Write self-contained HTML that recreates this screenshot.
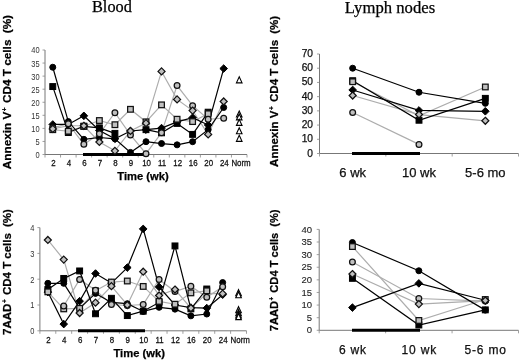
<!DOCTYPE html>
<html><head><meta charset="utf-8"><style>
html,body{margin:0;padding:0;background:#fff;}
svg{display:block;will-change:transform;font-family:"Liberation Sans",sans-serif;}
text{stroke:#000;stroke-width:0.25px;paint-order:stroke;}
</style></head><body>
<svg width="520" height="360" viewBox="0 0 520 360">
<rect width="520" height="360" fill="#fff"/>
<text x="92" y="12.4" font-family="Liberation Serif" font-size="16.3" fill="#000">Blood</text>
<text x="344.8" y="13.1" font-family="Liberation Serif" font-size="16.7" fill="#000">Lymph nodes</text>
<text transform="translate(11 169.2) rotate(-90)" font-size="11.6" font-weight="bold" fill="#000" textLength="154.2" lengthAdjust="spacingAndGlyphs">Annexin V<tspan font-size="6.4" dx="0.6" dy="-3.7">+</tspan><tspan dx="1.2" dy="3.7"> CD4 T cells </tspan><tspan dx="3">(%)</tspan></text>
<text transform="translate(11 334.9) rotate(-90)" font-size="11.6" font-weight="bold" fill="#000" textLength="125.8" lengthAdjust="spacingAndGlyphs">7AAD<tspan font-size="6.4" dx="0.6" dy="-3.7">+</tspan><tspan dx="1.2" dy="3.7"> CD4 T cells </tspan><tspan dx="3">(%)</tspan></text>
<text transform="translate(277.6 166.9) rotate(-90)" font-size="11.6" font-weight="bold" fill="#000" textLength="151" lengthAdjust="spacingAndGlyphs">Annexin V<tspan font-size="6.4" dx="0.6" dy="-3.7">+</tspan><tspan dx="1.2" dy="3.7"> CD4 T cells </tspan><tspan dx="3">(%)</tspan></text>
<text transform="translate(277.6 331.3) rotate(-90)" font-size="11.6" font-weight="bold" fill="#000" textLength="121.8" lengthAdjust="spacingAndGlyphs">7AAD<tspan font-size="6.4" dx="0.6" dy="-3.7">+</tspan><tspan dx="1.2" dy="3.7"> CD4 T cells </tspan><tspan dx="3">(%)</tspan></text>
<text x="143" y="179.9" font-size="11.2" font-weight="bold" text-anchor="middle" fill="#000">Time (wk)</text>
<text x="139.2" y="357.3" font-size="11.2" font-weight="bold" text-anchor="middle" fill="#000">Time (wk)</text>
<line x1="45" y1="50" x2="45" y2="154.5" stroke="#777" stroke-width="1"/>
<line x1="45" y1="154.5" x2="247" y2="154.5" stroke="#777" stroke-width="1"/>
<line x1="42.5" y1="154.5" x2="45" y2="154.5" stroke="#888" stroke-width="0.8"/>
<text transform="translate(39.6 157.99) scale(0.9 1)" font-size="8.3" text-anchor="end" fill="#333" style="stroke-width:0px">0</text>
<line x1="42.5" y1="141.44" x2="45" y2="141.44" stroke="#888" stroke-width="0.8"/>
<text transform="translate(39.6 144.92) scale(0.9 1)" font-size="8.3" text-anchor="end" fill="#333" style="stroke-width:0px">5</text>
<line x1="42.5" y1="128.38" x2="45" y2="128.38" stroke="#888" stroke-width="0.8"/>
<text transform="translate(39.6 131.86) scale(0.9 1)" font-size="8.3" text-anchor="end" fill="#333" style="stroke-width:0px">10</text>
<line x1="42.5" y1="115.31" x2="45" y2="115.31" stroke="#888" stroke-width="0.8"/>
<text transform="translate(39.6 118.8) scale(0.9 1)" font-size="8.3" text-anchor="end" fill="#333" style="stroke-width:0px">15</text>
<line x1="42.5" y1="102.25" x2="45" y2="102.25" stroke="#888" stroke-width="0.8"/>
<text transform="translate(39.6 105.74) scale(0.9 1)" font-size="8.3" text-anchor="end" fill="#333" style="stroke-width:0px">20</text>
<line x1="42.5" y1="89.19" x2="45" y2="89.19" stroke="#888" stroke-width="0.8"/>
<text transform="translate(39.6 92.67) scale(0.9 1)" font-size="8.3" text-anchor="end" fill="#333" style="stroke-width:0px">25</text>
<line x1="42.5" y1="76.12" x2="45" y2="76.12" stroke="#888" stroke-width="0.8"/>
<text transform="translate(39.6 79.61) scale(0.9 1)" font-size="8.3" text-anchor="end" fill="#333" style="stroke-width:0px">30</text>
<line x1="42.5" y1="63.06" x2="45" y2="63.06" stroke="#888" stroke-width="0.8"/>
<text transform="translate(39.6 66.55) scale(0.9 1)" font-size="8.3" text-anchor="end" fill="#333" style="stroke-width:0px">35</text>
<line x1="42.5" y1="50" x2="45" y2="50" stroke="#888" stroke-width="0.8"/>
<text transform="translate(39.6 53.49) scale(0.9 1)" font-size="8.3" text-anchor="end" fill="#333" style="stroke-width:0px">40</text>
<line x1="45" y1="154.5" x2="45" y2="157.5" stroke="#888" stroke-width="0.8"/>
<line x1="60.54" y1="154.5" x2="60.54" y2="157.5" stroke="#888" stroke-width="0.8"/>
<line x1="76.08" y1="154.5" x2="76.08" y2="157.5" stroke="#888" stroke-width="0.8"/>
<line x1="91.62" y1="154.5" x2="91.62" y2="157.5" stroke="#888" stroke-width="0.8"/>
<line x1="107.15" y1="154.5" x2="107.15" y2="157.5" stroke="#888" stroke-width="0.8"/>
<line x1="122.69" y1="154.5" x2="122.69" y2="157.5" stroke="#888" stroke-width="0.8"/>
<line x1="138.23" y1="154.5" x2="138.23" y2="157.5" stroke="#888" stroke-width="0.8"/>
<line x1="153.77" y1="154.5" x2="153.77" y2="157.5" stroke="#888" stroke-width="0.8"/>
<line x1="169.31" y1="154.5" x2="169.31" y2="157.5" stroke="#888" stroke-width="0.8"/>
<line x1="184.85" y1="154.5" x2="184.85" y2="157.5" stroke="#888" stroke-width="0.8"/>
<line x1="200.38" y1="154.5" x2="200.38" y2="157.5" stroke="#888" stroke-width="0.8"/>
<line x1="215.92" y1="154.5" x2="215.92" y2="157.5" stroke="#888" stroke-width="0.8"/>
<line x1="231.46" y1="154.5" x2="231.46" y2="157.5" stroke="#888" stroke-width="0.8"/>
<line x1="247" y1="154.5" x2="247" y2="157.5" stroke="#888" stroke-width="0.8"/>
<text transform="translate(53.37 165.6) scale(0.92 1)" font-size="8.6" text-anchor="middle" fill="#111">2</text>
<text transform="translate(68.91 165.6) scale(0.92 1)" font-size="8.6" text-anchor="middle" fill="#111">4</text>
<text transform="translate(84.45 165.6) scale(0.92 1)" font-size="8.6" text-anchor="middle" fill="#111">6</text>
<text transform="translate(99.98 165.6) scale(0.92 1)" font-size="8.6" text-anchor="middle" fill="#111">7</text>
<text transform="translate(115.52 165.6) scale(0.92 1)" font-size="8.6" text-anchor="middle" fill="#111">8</text>
<text transform="translate(131.06 165.6) scale(0.92 1)" font-size="8.6" text-anchor="middle" fill="#111">9</text>
<text transform="translate(146.6 165.6) scale(0.92 1)" font-size="8.6" text-anchor="middle" fill="#111">10</text>
<text transform="translate(162.14 165.6) scale(0.92 1)" font-size="8.6" text-anchor="middle" fill="#111">11</text>
<text transform="translate(177.68 165.6) scale(0.92 1)" font-size="8.6" text-anchor="middle" fill="#111">12</text>
<text transform="translate(193.22 165.6) scale(0.92 1)" font-size="8.6" text-anchor="middle" fill="#111">16</text>
<text transform="translate(208.75 165.6) scale(0.92 1)" font-size="8.6" text-anchor="middle" fill="#111">20</text>
<text transform="translate(224.29 165.6) scale(0.92 1)" font-size="8.6" text-anchor="middle" fill="#111">24</text>
<text transform="translate(241.03 165.6) scale(0.92 1)" font-size="8.6" text-anchor="middle" fill="#111">Norm</text>
<line x1="83" y1="154.5" x2="146" y2="154.5" stroke="#000" stroke-width="3"/>
<path d="M52.77 129.68 L68.31 131.25 L83.85 126.28 L99.38 120.54 L114.92 124.72 L130.46 109.3 L146 121.84 L161.54 104.86 L177.08 119.23 L192.62 121.58 L208.15 113.75" fill="none" stroke="#adadad" stroke-width="1.2"/>
<path d="M52.77 127.85 L68.31 123.67 L83.85 144.31 L99.38 133.86 L114.92 112.7 L130.46 134.91 L146 153.72 L161.54 132.82 L177.08 85.53 L192.62 105.65 L208.15 119.23 L223.69 118.19" fill="none" stroke="#adadad" stroke-width="1.2"/>
<path d="M52.77 128.9 L68.31 125.76 L83.85 125.76 L99.38 141.96 L114.92 150.84 L130.46 130.99 L146 123.15 L161.54 71.42 L177.08 99.38 L192.62 110.61 L208.15 134.38 L223.69 101.47" fill="none" stroke="#adadad" stroke-width="1.2"/>
<path d="M52.77 86.58 L68.31 132.56 L83.85 126.28 L99.38 127.85 L114.92 133.34" fill="none" stroke="#000" stroke-width="1.2"/>
<path d="M146 129.68 L161.54 132.82 L177.08 123.41 L192.62 134.38 L208.15 112.18" fill="none" stroke="#000" stroke-width="1.2"/>
<path d="M52.77 124.46 L68.31 124.46 L83.85 115.84 L99.38 130.47 L114.92 138.82 L130.46 130.99 L146 129.68 L161.54 128.11 L177.08 121.84 L192.62 117.66 L208.15 124.98 L223.69 68.55" fill="none" stroke="#000" stroke-width="1.2"/>
<path d="M52.77 67.24 L68.31 121.58 L83.85 139.35 L99.38 137.52 L114.92 138.82 L130.46 152.41 L146 141.7 L161.54 143.53 L177.08 144.83 L192.62 141.7 L208.15 129.68 L223.69 107.47" fill="none" stroke="#000" stroke-width="1.2"/>
<rect x="49.82" y="83.62" width="5.9" height="5.9" fill="#000" stroke="#000" stroke-width="1.0"/>
<rect x="65.36" y="129.61" width="5.9" height="5.9" fill="#000" stroke="#000" stroke-width="1.0"/>
<rect x="80.9" y="123.33" width="5.9" height="5.9" fill="#000" stroke="#000" stroke-width="1.0"/>
<rect x="96.43" y="124.9" width="5.9" height="5.9" fill="#000" stroke="#000" stroke-width="1.0"/>
<rect x="111.97" y="130.39" width="5.9" height="5.9" fill="#000" stroke="#000" stroke-width="1.0"/>
<rect x="143.05" y="126.73" width="5.9" height="5.9" fill="#000" stroke="#000" stroke-width="1.0"/>
<rect x="158.59" y="129.87" width="5.9" height="5.9" fill="#000" stroke="#000" stroke-width="1.0"/>
<rect x="174.13" y="120.46" width="5.9" height="5.9" fill="#000" stroke="#000" stroke-width="1.0"/>
<rect x="189.67" y="131.43" width="5.9" height="5.9" fill="#000" stroke="#000" stroke-width="1.0"/>
<rect x="205.2" y="109.23" width="5.9" height="5.9" fill="#000" stroke="#000" stroke-width="1.0"/>
<path d="M52.77 120.66L56.57 124.46L52.77 128.26L48.97 124.46Z" fill="#000" stroke="#000" stroke-width="1.0" stroke-linejoin="miter"/>
<path d="M68.31 120.66L72.11 124.46L68.31 128.26L64.51 124.46Z" fill="#000" stroke="#000" stroke-width="1.0" stroke-linejoin="miter"/>
<path d="M83.85 112.04L87.65 115.84L83.85 119.64L80.05 115.84Z" fill="#000" stroke="#000" stroke-width="1.0" stroke-linejoin="miter"/>
<path d="M99.38 126.67L103.18 130.47L99.38 134.27L95.58 130.47Z" fill="#000" stroke="#000" stroke-width="1.0" stroke-linejoin="miter"/>
<path d="M114.92 135.02L118.72 138.82L114.92 142.62L111.12 138.82Z" fill="#000" stroke="#000" stroke-width="1.0" stroke-linejoin="miter"/>
<path d="M130.46 127.19L134.26 130.99L130.46 134.79L126.66 130.99Z" fill="#000" stroke="#000" stroke-width="1.0" stroke-linejoin="miter"/>
<path d="M146 125.88L149.8 129.68L146 133.48L142.2 129.68Z" fill="#000" stroke="#000" stroke-width="1.0" stroke-linejoin="miter"/>
<path d="M161.54 124.31L165.34 128.11L161.54 131.91L157.74 128.11Z" fill="#000" stroke="#000" stroke-width="1.0" stroke-linejoin="miter"/>
<path d="M177.08 118.04L180.88 121.84L177.08 125.64L173.28 121.84Z" fill="#000" stroke="#000" stroke-width="1.0" stroke-linejoin="miter"/>
<path d="M192.62 113.86L196.42 117.66L192.62 121.46L188.82 117.66Z" fill="#000" stroke="#000" stroke-width="1.0" stroke-linejoin="miter"/>
<path d="M208.15 121.18L211.95 124.98L208.15 128.78L204.35 124.98Z" fill="#000" stroke="#000" stroke-width="1.0" stroke-linejoin="miter"/>
<path d="M223.69 64.75L227.49 68.55L223.69 72.35L219.89 68.55Z" fill="#000" stroke="#000" stroke-width="1.0" stroke-linejoin="miter"/>
<circle cx="52.77" cy="67.24" r="3" fill="#000" stroke="#000" stroke-width="1.0"/>
<circle cx="68.31" cy="121.58" r="3" fill="#000" stroke="#000" stroke-width="1.0"/>
<circle cx="83.85" cy="139.35" r="3" fill="#000" stroke="#000" stroke-width="1.0"/>
<circle cx="99.38" cy="137.52" r="3" fill="#000" stroke="#000" stroke-width="1.0"/>
<circle cx="114.92" cy="138.82" r="3" fill="#000" stroke="#000" stroke-width="1.0"/>
<circle cx="130.46" cy="152.41" r="3" fill="#000" stroke="#000" stroke-width="1.0"/>
<circle cx="146" cy="141.7" r="3" fill="#000" stroke="#000" stroke-width="1.0"/>
<circle cx="161.54" cy="143.53" r="3" fill="#000" stroke="#000" stroke-width="1.0"/>
<circle cx="177.08" cy="144.83" r="3" fill="#000" stroke="#000" stroke-width="1.0"/>
<circle cx="192.62" cy="141.7" r="3" fill="#000" stroke="#000" stroke-width="1.0"/>
<circle cx="208.15" cy="129.68" r="3" fill="#000" stroke="#000" stroke-width="1.0"/>
<circle cx="223.69" cy="107.47" r="3" fill="#000" stroke="#000" stroke-width="1.0"/>
<rect x="49.94" y="126.86" width="5.65" height="5.65" fill="#c0c0c0" stroke="#111" stroke-width="1.25"/>
<rect x="65.48" y="128.42" width="5.65" height="5.65" fill="#c0c0c0" stroke="#111" stroke-width="1.25"/>
<rect x="81.02" y="123.46" width="5.65" height="5.65" fill="#c0c0c0" stroke="#111" stroke-width="1.25"/>
<rect x="96.56" y="117.71" width="5.65" height="5.65" fill="#c0c0c0" stroke="#111" stroke-width="1.25"/>
<rect x="112.1" y="121.89" width="5.65" height="5.65" fill="#c0c0c0" stroke="#111" stroke-width="1.25"/>
<rect x="127.64" y="106.48" width="5.65" height="5.65" fill="#c0c0c0" stroke="#111" stroke-width="1.25"/>
<rect x="143.18" y="119.02" width="5.65" height="5.65" fill="#c0c0c0" stroke="#111" stroke-width="1.25"/>
<rect x="158.71" y="102.04" width="5.65" height="5.65" fill="#c0c0c0" stroke="#111" stroke-width="1.25"/>
<rect x="174.25" y="116.41" width="5.65" height="5.65" fill="#c0c0c0" stroke="#111" stroke-width="1.25"/>
<rect x="189.79" y="118.76" width="5.65" height="5.65" fill="#c0c0c0" stroke="#111" stroke-width="1.25"/>
<rect x="205.33" y="110.92" width="5.65" height="5.65" fill="#c0c0c0" stroke="#111" stroke-width="1.25"/>
<circle cx="52.77" cy="127.85" r="2.88" fill="#c0c0c0" stroke="#111" stroke-width="1.25"/>
<circle cx="68.31" cy="123.67" r="2.88" fill="#c0c0c0" stroke="#111" stroke-width="1.25"/>
<circle cx="83.85" cy="144.31" r="2.88" fill="#c0c0c0" stroke="#111" stroke-width="1.25"/>
<circle cx="99.38" cy="133.86" r="2.88" fill="#c0c0c0" stroke="#111" stroke-width="1.25"/>
<circle cx="114.92" cy="112.7" r="2.88" fill="#c0c0c0" stroke="#111" stroke-width="1.25"/>
<circle cx="130.46" cy="134.91" r="2.88" fill="#c0c0c0" stroke="#111" stroke-width="1.25"/>
<circle cx="146" cy="153.72" r="2.88" fill="#c0c0c0" stroke="#111" stroke-width="1.25"/>
<circle cx="161.54" cy="132.82" r="2.88" fill="#c0c0c0" stroke="#111" stroke-width="1.25"/>
<circle cx="177.08" cy="85.53" r="2.88" fill="#c0c0c0" stroke="#111" stroke-width="1.25"/>
<circle cx="192.62" cy="105.65" r="2.88" fill="#c0c0c0" stroke="#111" stroke-width="1.25"/>
<circle cx="208.15" cy="119.23" r="2.88" fill="#c0c0c0" stroke="#111" stroke-width="1.25"/>
<circle cx="223.69" cy="118.19" r="2.88" fill="#c0c0c0" stroke="#111" stroke-width="1.25"/>
<path d="M52.77 125.4L56.27 128.9L52.77 132.4L49.27 128.9Z" fill="#c0c0c0" stroke="#111" stroke-width="1.25" stroke-linejoin="miter"/>
<path d="M83.85 122.26L87.35 125.76L83.85 129.26L80.35 125.76Z" fill="#c0c0c0" stroke="#111" stroke-width="1.25" stroke-linejoin="miter"/>
<path d="M99.38 138.46L102.88 141.96L99.38 145.46L95.88 141.96Z" fill="#c0c0c0" stroke="#111" stroke-width="1.25" stroke-linejoin="miter"/>
<path d="M114.92 147.34L118.42 150.84L114.92 154.34L111.42 150.84Z" fill="#c0c0c0" stroke="#111" stroke-width="1.25" stroke-linejoin="miter"/>
<path d="M130.46 127.49L133.96 130.99L130.46 134.49L126.96 130.99Z" fill="#c0c0c0" stroke="#111" stroke-width="1.25" stroke-linejoin="miter"/>
<path d="M146 119.65L149.5 123.15L146 126.65L142.5 123.15Z" fill="#c0c0c0" stroke="#111" stroke-width="1.25" stroke-linejoin="miter"/>
<path d="M161.54 67.92L165.04 71.42L161.54 74.92L158.04 71.42Z" fill="#c0c0c0" stroke="#111" stroke-width="1.25" stroke-linejoin="miter"/>
<path d="M177.08 95.88L180.58 99.38L177.08 102.88L173.58 99.38Z" fill="#c0c0c0" stroke="#111" stroke-width="1.25" stroke-linejoin="miter"/>
<path d="M192.62 107.11L196.12 110.61L192.62 114.11L189.12 110.61Z" fill="#c0c0c0" stroke="#111" stroke-width="1.25" stroke-linejoin="miter"/>
<path d="M208.15 130.88L211.65 134.38L208.15 137.88L204.65 134.38Z" fill="#c0c0c0" stroke="#111" stroke-width="1.25" stroke-linejoin="miter"/>
<path d="M223.69 97.97L227.19 101.47L223.69 104.97L220.19 101.47Z" fill="#c0c0c0" stroke="#111" stroke-width="1.25" stroke-linejoin="miter"/>
<path d="M239.23 76.81L242.03 82.83L236.43 82.83Z" fill="#fff" stroke="#000" stroke-width="1.1"/>
<path d="M239.23 111.03L242.03 117.05L236.43 117.05Z" fill="#fff" stroke="#000" stroke-width="1.1"/>
<path d="M239.23 113.9L242.03 119.92L236.43 119.92Z" fill="#fff" stroke="#000" stroke-width="1.1"/>
<path d="M239.23 119.39L242.03 125.41L236.43 125.41Z" fill="#fff" stroke="#000" stroke-width="1.1"/>
<path d="M239.23 127.75L242.03 133.77L236.43 133.77Z" fill="#fff" stroke="#000" stroke-width="1.1"/>
<path d="M239.23 135.32L242.03 141.34L236.43 141.34Z" fill="#fff" stroke="#000" stroke-width="1.1"/>
<line x1="39.9" y1="227.6" x2="39.9" y2="330.8" stroke="#777" stroke-width="1"/>
<line x1="39.9" y1="330.8" x2="246.5" y2="330.8" stroke="#777" stroke-width="1"/>
<line x1="37.4" y1="330.8" x2="39.9" y2="330.8" stroke="#888" stroke-width="0.8"/>
<text transform="translate(34.5 334.29) scale(0.9 1)" font-size="8.3" text-anchor="end" fill="#333" style="stroke-width:0px">0</text>
<line x1="37.4" y1="305" x2="39.9" y2="305" stroke="#888" stroke-width="0.8"/>
<text transform="translate(34.5 308.49) scale(0.9 1)" font-size="8.3" text-anchor="end" fill="#333" style="stroke-width:0px">1</text>
<line x1="37.4" y1="279.2" x2="39.9" y2="279.2" stroke="#888" stroke-width="0.8"/>
<text transform="translate(34.5 282.69) scale(0.9 1)" font-size="8.3" text-anchor="end" fill="#333" style="stroke-width:0px">2</text>
<line x1="37.4" y1="253.4" x2="39.9" y2="253.4" stroke="#888" stroke-width="0.8"/>
<text transform="translate(34.5 256.89) scale(0.9 1)" font-size="8.3" text-anchor="end" fill="#333" style="stroke-width:0px">3</text>
<line x1="37.4" y1="227.6" x2="39.9" y2="227.6" stroke="#888" stroke-width="0.8"/>
<text transform="translate(34.5 231.09) scale(0.9 1)" font-size="8.3" text-anchor="end" fill="#333" style="stroke-width:0px">4</text>
<line x1="39.9" y1="330.8" x2="39.9" y2="333.8" stroke="#888" stroke-width="0.8"/>
<line x1="55.79" y1="330.8" x2="55.79" y2="333.8" stroke="#888" stroke-width="0.8"/>
<line x1="71.68" y1="330.8" x2="71.68" y2="333.8" stroke="#888" stroke-width="0.8"/>
<line x1="87.58" y1="330.8" x2="87.58" y2="333.8" stroke="#888" stroke-width="0.8"/>
<line x1="103.47" y1="330.8" x2="103.47" y2="333.8" stroke="#888" stroke-width="0.8"/>
<line x1="119.36" y1="330.8" x2="119.36" y2="333.8" stroke="#888" stroke-width="0.8"/>
<line x1="135.25" y1="330.8" x2="135.25" y2="333.8" stroke="#888" stroke-width="0.8"/>
<line x1="151.15" y1="330.8" x2="151.15" y2="333.8" stroke="#888" stroke-width="0.8"/>
<line x1="167.04" y1="330.8" x2="167.04" y2="333.8" stroke="#888" stroke-width="0.8"/>
<line x1="182.93" y1="330.8" x2="182.93" y2="333.8" stroke="#888" stroke-width="0.8"/>
<line x1="198.82" y1="330.8" x2="198.82" y2="333.8" stroke="#888" stroke-width="0.8"/>
<line x1="214.72" y1="330.8" x2="214.72" y2="333.8" stroke="#888" stroke-width="0.8"/>
<line x1="230.61" y1="330.8" x2="230.61" y2="333.8" stroke="#888" stroke-width="0.8"/>
<line x1="246.5" y1="330.8" x2="246.5" y2="333.8" stroke="#888" stroke-width="0.8"/>
<text transform="translate(48.35 342.9) scale(0.92 1)" font-size="8.6" text-anchor="middle" fill="#111">2</text>
<text transform="translate(64.24 342.9) scale(0.92 1)" font-size="8.6" text-anchor="middle" fill="#111">4</text>
<text transform="translate(80.13 342.9) scale(0.92 1)" font-size="8.6" text-anchor="middle" fill="#111">6</text>
<text transform="translate(96.02 342.9) scale(0.92 1)" font-size="8.6" text-anchor="middle" fill="#111">7</text>
<text transform="translate(111.92 342.9) scale(0.92 1)" font-size="8.6" text-anchor="middle" fill="#111">8</text>
<text transform="translate(127.81 342.9) scale(0.92 1)" font-size="8.6" text-anchor="middle" fill="#111">9</text>
<text transform="translate(143.7 342.9) scale(0.92 1)" font-size="8.6" text-anchor="middle" fill="#111">10</text>
<text transform="translate(159.59 342.9) scale(0.92 1)" font-size="8.6" text-anchor="middle" fill="#111">11</text>
<text transform="translate(175.48 342.9) scale(0.92 1)" font-size="8.6" text-anchor="middle" fill="#111">12</text>
<text transform="translate(191.38 342.9) scale(0.92 1)" font-size="8.6" text-anchor="middle" fill="#111">16</text>
<text transform="translate(207.27 342.9) scale(0.92 1)" font-size="8.6" text-anchor="middle" fill="#111">20</text>
<text transform="translate(223.16 342.9) scale(0.92 1)" font-size="8.6" text-anchor="middle" fill="#111">24</text>
<text transform="translate(240.25 342.9) scale(0.92 1)" font-size="8.6" text-anchor="middle" fill="#111">Norm</text>
<line x1="78" y1="330.8" x2="145" y2="330.8" stroke="#000" stroke-width="3"/>
<path d="M47.85 291.84 L63.74 308.87 L79.63 308.35 L95.52 290.81 L111.42 282.04 L127.31 281.01 L143.2 286.42 L159.09 301.39 L174.98 304.23 L190.88 292.87 L206.77 290.81" fill="none" stroke="#adadad" stroke-width="1.2"/>
<path d="M63.74 306.03 L79.63 279.46 L95.52 290.29 L111.42 304.48 L127.31 305.52 L143.2 304.48 L159.09 279.46 L174.98 291.58 L190.88 286.17 L206.77 297.26 L222.66 286.68" fill="none" stroke="#adadad" stroke-width="1.2"/>
<path d="M47.85 239.98 L63.74 259.59 L79.63 313 L95.52 302.68 L111.42 286.17 L127.31 305 L143.2 271.72 L159.09 295.45 L174.98 289.52 L190.88 308.1 L206.77 293.39 L222.66 293.65" fill="none" stroke="#adadad" stroke-width="1.2"/>
<path d="M47.85 289.52 L63.74 278.43 L79.63 270.94 L95.52 313.77 L111.42 298.29 L127.31 315.58 L143.2 311.19 L159.09 302.42 L174.98 245.92 L190.88 308.87 L206.77 289" fill="none" stroke="#000" stroke-width="1.2"/>
<path d="M47.85 292.1 L63.74 324.09 L79.63 301.13 L95.52 273.52 L111.42 283.07 L127.31 267.59 L143.2 228.89 L159.09 286.94 L174.98 305 L190.88 307.58 L206.77 308.1 L222.66 294.68" fill="none" stroke="#000" stroke-width="1.2"/>
<path d="M47.85 283.33 L63.74 283.33 L79.63 308.35 L95.52 293.39 L111.42 302.42 L127.31 303.71 L143.2 311.45 L159.09 307.32 L174.98 309.13 L190.88 315.84 L206.77 314.03 L222.66 282.55" fill="none" stroke="#000" stroke-width="1.2"/>
<rect x="44.9" y="286.57" width="5.9" height="5.9" fill="#000" stroke="#000" stroke-width="1.0"/>
<rect x="60.79" y="275.48" width="5.9" height="5.9" fill="#000" stroke="#000" stroke-width="1.0"/>
<rect x="76.68" y="267.99" width="5.9" height="5.9" fill="#000" stroke="#000" stroke-width="1.0"/>
<rect x="92.57" y="310.82" width="5.9" height="5.9" fill="#000" stroke="#000" stroke-width="1.0"/>
<rect x="108.47" y="295.34" width="5.9" height="5.9" fill="#000" stroke="#000" stroke-width="1.0"/>
<rect x="124.36" y="312.63" width="5.9" height="5.9" fill="#000" stroke="#000" stroke-width="1.0"/>
<rect x="140.25" y="308.24" width="5.9" height="5.9" fill="#000" stroke="#000" stroke-width="1.0"/>
<rect x="156.14" y="299.47" width="5.9" height="5.9" fill="#000" stroke="#000" stroke-width="1.0"/>
<rect x="172.03" y="242.97" width="5.9" height="5.9" fill="#000" stroke="#000" stroke-width="1.0"/>
<rect x="187.93" y="305.92" width="5.9" height="5.9" fill="#000" stroke="#000" stroke-width="1.0"/>
<rect x="203.82" y="286.05" width="5.9" height="5.9" fill="#000" stroke="#000" stroke-width="1.0"/>
<path d="M47.85 288.3L51.65 292.1L47.85 295.9L44.05 292.1Z" fill="#000" stroke="#000" stroke-width="1.0" stroke-linejoin="miter"/>
<path d="M63.74 320.29L67.54 324.09L63.74 327.89L59.94 324.09Z" fill="#000" stroke="#000" stroke-width="1.0" stroke-linejoin="miter"/>
<path d="M79.63 297.33L83.43 301.13L79.63 304.93L75.83 301.13Z" fill="#000" stroke="#000" stroke-width="1.0" stroke-linejoin="miter"/>
<path d="M95.52 269.72L99.32 273.52L95.52 277.32L91.72 273.52Z" fill="#000" stroke="#000" stroke-width="1.0" stroke-linejoin="miter"/>
<path d="M111.42 279.27L115.22 283.07L111.42 286.87L107.62 283.07Z" fill="#000" stroke="#000" stroke-width="1.0" stroke-linejoin="miter"/>
<path d="M127.31 263.79L131.11 267.59L127.31 271.39L123.51 267.59Z" fill="#000" stroke="#000" stroke-width="1.0" stroke-linejoin="miter"/>
<path d="M143.2 225.09L147 228.89L143.2 232.69L139.4 228.89Z" fill="#000" stroke="#000" stroke-width="1.0" stroke-linejoin="miter"/>
<path d="M159.09 283.14L162.89 286.94L159.09 290.74L155.29 286.94Z" fill="#000" stroke="#000" stroke-width="1.0" stroke-linejoin="miter"/>
<path d="M174.98 301.2L178.78 305L174.98 308.8L171.18 305Z" fill="#000" stroke="#000" stroke-width="1.0" stroke-linejoin="miter"/>
<path d="M190.88 303.78L194.68 307.58L190.88 311.38L187.08 307.58Z" fill="#000" stroke="#000" stroke-width="1.0" stroke-linejoin="miter"/>
<path d="M206.77 304.3L210.57 308.1L206.77 311.9L202.97 308.1Z" fill="#000" stroke="#000" stroke-width="1.0" stroke-linejoin="miter"/>
<path d="M222.66 290.88L226.46 294.68L222.66 298.48L218.86 294.68Z" fill="#000" stroke="#000" stroke-width="1.0" stroke-linejoin="miter"/>
<circle cx="47.85" cy="283.33" r="3" fill="#000" stroke="#000" stroke-width="1.0"/>
<circle cx="63.74" cy="283.33" r="3" fill="#000" stroke="#000" stroke-width="1.0"/>
<circle cx="79.63" cy="308.35" r="3" fill="#000" stroke="#000" stroke-width="1.0"/>
<circle cx="95.52" cy="293.39" r="3" fill="#000" stroke="#000" stroke-width="1.0"/>
<circle cx="111.42" cy="302.42" r="3" fill="#000" stroke="#000" stroke-width="1.0"/>
<circle cx="127.31" cy="303.71" r="3" fill="#000" stroke="#000" stroke-width="1.0"/>
<circle cx="143.2" cy="311.45" r="3" fill="#000" stroke="#000" stroke-width="1.0"/>
<circle cx="159.09" cy="307.32" r="3" fill="#000" stroke="#000" stroke-width="1.0"/>
<circle cx="174.98" cy="309.13" r="3" fill="#000" stroke="#000" stroke-width="1.0"/>
<circle cx="190.88" cy="315.84" r="3" fill="#000" stroke="#000" stroke-width="1.0"/>
<circle cx="206.77" cy="314.03" r="3" fill="#000" stroke="#000" stroke-width="1.0"/>
<circle cx="222.66" cy="282.55" r="3" fill="#000" stroke="#000" stroke-width="1.0"/>
<rect x="45.02" y="289.02" width="5.65" height="5.65" fill="#c0c0c0" stroke="#111" stroke-width="1.25"/>
<rect x="60.91" y="306.05" width="5.65" height="5.65" fill="#c0c0c0" stroke="#111" stroke-width="1.25"/>
<rect x="76.81" y="305.53" width="5.65" height="5.65" fill="#c0c0c0" stroke="#111" stroke-width="1.25"/>
<rect x="92.7" y="287.99" width="5.65" height="5.65" fill="#c0c0c0" stroke="#111" stroke-width="1.25"/>
<rect x="108.59" y="279.21" width="5.65" height="5.65" fill="#c0c0c0" stroke="#111" stroke-width="1.25"/>
<rect x="124.48" y="278.18" width="5.65" height="5.65" fill="#c0c0c0" stroke="#111" stroke-width="1.25"/>
<rect x="140.38" y="283.6" width="5.65" height="5.65" fill="#c0c0c0" stroke="#111" stroke-width="1.25"/>
<rect x="156.27" y="298.56" width="5.65" height="5.65" fill="#c0c0c0" stroke="#111" stroke-width="1.25"/>
<rect x="172.16" y="301.4" width="5.65" height="5.65" fill="#c0c0c0" stroke="#111" stroke-width="1.25"/>
<rect x="188.05" y="290.05" width="5.65" height="5.65" fill="#c0c0c0" stroke="#111" stroke-width="1.25"/>
<rect x="203.94" y="287.99" width="5.65" height="5.65" fill="#c0c0c0" stroke="#111" stroke-width="1.25"/>
<circle cx="63.74" cy="306.03" r="2.88" fill="#c0c0c0" stroke="#111" stroke-width="1.25"/>
<circle cx="79.63" cy="279.46" r="2.88" fill="#c0c0c0" stroke="#111" stroke-width="1.25"/>
<circle cx="95.52" cy="290.29" r="2.88" fill="#c0c0c0" stroke="#111" stroke-width="1.25"/>
<circle cx="111.42" cy="304.48" r="2.88" fill="#c0c0c0" stroke="#111" stroke-width="1.25"/>
<circle cx="127.31" cy="305.52" r="2.88" fill="#c0c0c0" stroke="#111" stroke-width="1.25"/>
<circle cx="143.2" cy="304.48" r="2.88" fill="#c0c0c0" stroke="#111" stroke-width="1.25"/>
<circle cx="159.09" cy="279.46" r="2.88" fill="#c0c0c0" stroke="#111" stroke-width="1.25"/>
<circle cx="174.98" cy="291.58" r="2.88" fill="#c0c0c0" stroke="#111" stroke-width="1.25"/>
<circle cx="190.88" cy="286.17" r="2.88" fill="#c0c0c0" stroke="#111" stroke-width="1.25"/>
<circle cx="206.77" cy="297.26" r="2.88" fill="#c0c0c0" stroke="#111" stroke-width="1.25"/>
<circle cx="222.66" cy="286.68" r="2.88" fill="#c0c0c0" stroke="#111" stroke-width="1.25"/>
<path d="M47.85 236.48L51.35 239.98L47.85 243.48L44.35 239.98Z" fill="#c0c0c0" stroke="#111" stroke-width="1.25" stroke-linejoin="miter"/>
<path d="M63.74 256.09L67.24 259.59L63.74 263.09L60.24 259.59Z" fill="#c0c0c0" stroke="#111" stroke-width="1.25" stroke-linejoin="miter"/>
<path d="M79.63 309.5L83.13 313L79.63 316.5L76.13 313Z" fill="#c0c0c0" stroke="#111" stroke-width="1.25" stroke-linejoin="miter"/>
<path d="M95.52 299.18L99.02 302.68L95.52 306.18L92.02 302.68Z" fill="#c0c0c0" stroke="#111" stroke-width="1.25" stroke-linejoin="miter"/>
<path d="M111.42 282.67L114.92 286.17L111.42 289.67L107.92 286.17Z" fill="#c0c0c0" stroke="#111" stroke-width="1.25" stroke-linejoin="miter"/>
<path d="M127.31 301.5L130.81 305L127.31 308.5L123.81 305Z" fill="#c0c0c0" stroke="#111" stroke-width="1.25" stroke-linejoin="miter"/>
<path d="M143.2 268.22L146.7 271.72L143.2 275.22L139.7 271.72Z" fill="#c0c0c0" stroke="#111" stroke-width="1.25" stroke-linejoin="miter"/>
<path d="M159.09 291.95L162.59 295.45L159.09 298.95L155.59 295.45Z" fill="#c0c0c0" stroke="#111" stroke-width="1.25" stroke-linejoin="miter"/>
<path d="M174.98 286.02L178.48 289.52L174.98 293.02L171.48 289.52Z" fill="#c0c0c0" stroke="#111" stroke-width="1.25" stroke-linejoin="miter"/>
<path d="M190.88 304.6L194.38 308.1L190.88 311.6L187.38 308.1Z" fill="#c0c0c0" stroke="#111" stroke-width="1.25" stroke-linejoin="miter"/>
<path d="M222.66 290.15L226.16 293.65L222.66 297.15L219.16 293.65Z" fill="#c0c0c0" stroke="#111" stroke-width="1.25" stroke-linejoin="miter"/>
<path d="M238.55 289.63L241.35 295.65L235.75 295.65Z" fill="#fff" stroke="#000" stroke-width="1.1"/>
<path d="M238.55 291.7L241.35 297.72L235.75 297.72Z" fill="#fff" stroke="#000" stroke-width="1.1"/>
<path d="M238.55 306.66L241.35 312.68L235.75 312.68Z" fill="#fff" stroke="#000" stroke-width="1.1"/>
<path d="M238.55 309.76L241.35 315.78L235.75 315.78Z" fill="#fff" stroke="#000" stroke-width="1.1"/>
<path d="M238.55 311.82L241.35 317.84L235.75 317.84Z" fill="#fff" stroke="#000" stroke-width="1.1"/>
<path d="M238.55 313.63L241.35 319.65L235.75 319.65Z" fill="#fff" stroke="#000" stroke-width="1.1"/>
<line x1="319.5" y1="54" x2="319.5" y2="153.5" stroke="#777" stroke-width="1"/>
<line x1="319.5" y1="153.5" x2="518.5" y2="153.5" stroke="#777" stroke-width="1"/>
<line x1="317" y1="153.5" x2="319.5" y2="153.5" stroke="#888" stroke-width="0.8"/>
<text transform="translate(313 156.56) scale(1 1)" font-size="10.2" text-anchor="end" fill="#111" style="stroke-width:0.25px">0</text>
<line x1="317" y1="139.29" x2="319.5" y2="139.29" stroke="#888" stroke-width="0.8"/>
<text transform="translate(313 142.35) scale(1 1)" font-size="10.2" text-anchor="end" fill="#111" style="stroke-width:0.25px">10</text>
<line x1="317" y1="125.07" x2="319.5" y2="125.07" stroke="#888" stroke-width="0.8"/>
<text transform="translate(313 128.13) scale(1 1)" font-size="10.2" text-anchor="end" fill="#111" style="stroke-width:0.25px">20</text>
<line x1="317" y1="110.86" x2="319.5" y2="110.86" stroke="#888" stroke-width="0.8"/>
<text transform="translate(313 113.92) scale(1 1)" font-size="10.2" text-anchor="end" fill="#111" style="stroke-width:0.25px">30</text>
<line x1="317" y1="96.64" x2="319.5" y2="96.64" stroke="#888" stroke-width="0.8"/>
<text transform="translate(313 99.7) scale(1 1)" font-size="10.2" text-anchor="end" fill="#111" style="stroke-width:0.25px">40</text>
<line x1="317" y1="82.43" x2="319.5" y2="82.43" stroke="#888" stroke-width="0.8"/>
<text transform="translate(313 85.49) scale(1 1)" font-size="10.2" text-anchor="end" fill="#111" style="stroke-width:0.25px">50</text>
<line x1="317" y1="68.21" x2="319.5" y2="68.21" stroke="#888" stroke-width="0.8"/>
<text transform="translate(313 71.27) scale(1 1)" font-size="10.2" text-anchor="end" fill="#111" style="stroke-width:0.25px">60</text>
<line x1="317" y1="54" x2="319.5" y2="54" stroke="#888" stroke-width="0.8"/>
<text transform="translate(313 57.06) scale(1 1)" font-size="10.2" text-anchor="end" fill="#111" style="stroke-width:0.25px">70</text>
<line x1="319.5" y1="153.5" x2="319.5" y2="156.5" stroke="#888" stroke-width="0.8"/>
<line x1="385.83" y1="153.5" x2="385.83" y2="156.5" stroke="#888" stroke-width="0.8"/>
<line x1="452.17" y1="153.5" x2="452.17" y2="156.5" stroke="#888" stroke-width="0.8"/>
<line x1="518.5" y1="153.5" x2="518.5" y2="156.5" stroke="#888" stroke-width="0.8"/>
<text transform="translate(352.67 177.3) scale(1 1)" font-size="13" text-anchor="middle" fill="#111">6 wk</text>
<text transform="translate(419 177.3) scale(1 1)" font-size="13" text-anchor="middle" fill="#111">10 wk</text>
<text transform="translate(485.33 177.3) scale(1 1)" font-size="13" text-anchor="middle" fill="#111">5-6 mo</text>
<line x1="352" y1="153.5" x2="420" y2="153.5" stroke="#000" stroke-width="3"/>
<path d="M352.67 112.42 L419 144.4" fill="none" stroke="#adadad" stroke-width="1.2"/>
<path d="M352.67 95.51 L419 114.55 L485.33 120.81" fill="none" stroke="#adadad" stroke-width="1.2"/>
<path d="M352.67 81.72 L419 115.83 L485.33 86.98" fill="none" stroke="#adadad" stroke-width="1.2"/>
<path d="M352.67 89.96 L419 110.43 L485.33 111.28" fill="none" stroke="#000" stroke-width="1.2"/>
<path d="M352.67 80.72 L419 120.24 L485.33 98.35" fill="none" stroke="#000" stroke-width="1.2"/>
<path d="M352.67 68.21 L419 92.24 L485.33 103.32" fill="none" stroke="#000" stroke-width="1.2"/>
<path d="M352.67 86.16L356.47 89.96L352.67 93.76L348.87 89.96Z" fill="#000" stroke="#000" stroke-width="1.0" stroke-linejoin="miter"/>
<path d="M419 106.63L422.8 110.43L419 114.23L415.2 110.43Z" fill="#000" stroke="#000" stroke-width="1.0" stroke-linejoin="miter"/>
<path d="M485.33 107.48L489.13 111.28L485.33 115.08L481.53 111.28Z" fill="#000" stroke="#000" stroke-width="1.0" stroke-linejoin="miter"/>
<rect x="349.72" y="77.77" width="5.9" height="5.9" fill="#000" stroke="#000" stroke-width="1.0"/>
<rect x="416.05" y="117.29" width="5.9" height="5.9" fill="#000" stroke="#000" stroke-width="1.0"/>
<rect x="482.38" y="95.4" width="5.9" height="5.9" fill="#000" stroke="#000" stroke-width="1.0"/>
<circle cx="352.67" cy="68.21" r="3" fill="#000" stroke="#000" stroke-width="1.0"/>
<circle cx="419" cy="92.24" r="3" fill="#000" stroke="#000" stroke-width="1.0"/>
<circle cx="485.33" cy="103.32" r="3" fill="#000" stroke="#000" stroke-width="1.0"/>
<circle cx="352.67" cy="112.42" r="2.88" fill="#c0c0c0" stroke="#111" stroke-width="1.25"/>
<circle cx="419" cy="144.4" r="2.88" fill="#c0c0c0" stroke="#111" stroke-width="1.25"/>
<path d="M352.67 92.01L356.17 95.51L352.67 99.01L349.17 95.51Z" fill="#c0c0c0" stroke="#111" stroke-width="1.25" stroke-linejoin="miter"/>
<path d="M419 111.05L422.5 114.55L419 118.05L415.5 114.55Z" fill="#c0c0c0" stroke="#111" stroke-width="1.25" stroke-linejoin="miter"/>
<path d="M485.33 117.31L488.83 120.81L485.33 124.31L481.83 120.81Z" fill="#c0c0c0" stroke="#111" stroke-width="1.25" stroke-linejoin="miter"/>
<rect x="349.84" y="78.89" width="5.65" height="5.65" fill="#c0c0c0" stroke="#111" stroke-width="1.25"/>
<rect x="482.51" y="84.15" width="5.65" height="5.65" fill="#c0c0c0" stroke="#111" stroke-width="1.25"/>
<line x1="319.2" y1="229.4" x2="319.2" y2="330.3" stroke="#777" stroke-width="1"/>
<line x1="319.2" y1="330.3" x2="518.5" y2="330.3" stroke="#777" stroke-width="1"/>
<line x1="316.7" y1="330.3" x2="319.2" y2="330.3" stroke="#888" stroke-width="0.8"/>
<text transform="translate(312 333.44) scale(1 1)" font-size="9.5" text-anchor="end" fill="#222" style="stroke-width:0.1px">0</text>
<line x1="316.7" y1="317.69" x2="319.2" y2="317.69" stroke="#888" stroke-width="0.8"/>
<text transform="translate(312 320.82) scale(1 1)" font-size="9.5" text-anchor="end" fill="#222" style="stroke-width:0.1px">5</text>
<line x1="316.7" y1="305.07" x2="319.2" y2="305.07" stroke="#888" stroke-width="0.8"/>
<text transform="translate(312 308.21) scale(1 1)" font-size="9.5" text-anchor="end" fill="#222" style="stroke-width:0.1px">10</text>
<line x1="316.7" y1="292.46" x2="319.2" y2="292.46" stroke="#888" stroke-width="0.8"/>
<text transform="translate(312 295.6) scale(1 1)" font-size="9.5" text-anchor="end" fill="#222" style="stroke-width:0.1px">15</text>
<line x1="316.7" y1="279.85" x2="319.2" y2="279.85" stroke="#888" stroke-width="0.8"/>
<text transform="translate(312 282.99) scale(1 1)" font-size="9.5" text-anchor="end" fill="#222" style="stroke-width:0.1px">20</text>
<line x1="316.7" y1="267.24" x2="319.2" y2="267.24" stroke="#888" stroke-width="0.8"/>
<text transform="translate(312 270.37) scale(1 1)" font-size="9.5" text-anchor="end" fill="#222" style="stroke-width:0.1px">25</text>
<line x1="316.7" y1="254.62" x2="319.2" y2="254.62" stroke="#888" stroke-width="0.8"/>
<text transform="translate(312 257.76) scale(1 1)" font-size="9.5" text-anchor="end" fill="#222" style="stroke-width:0.1px">30</text>
<line x1="316.7" y1="242.01" x2="319.2" y2="242.01" stroke="#888" stroke-width="0.8"/>
<text transform="translate(312 245.15) scale(1 1)" font-size="9.5" text-anchor="end" fill="#222" style="stroke-width:0.1px">35</text>
<line x1="316.7" y1="229.4" x2="319.2" y2="229.4" stroke="#888" stroke-width="0.8"/>
<text transform="translate(312 232.53) scale(1 1)" font-size="9.5" text-anchor="end" fill="#222" style="stroke-width:0.1px">40</text>
<line x1="319.2" y1="330.3" x2="319.2" y2="333.3" stroke="#888" stroke-width="0.8"/>
<line x1="385.63" y1="330.3" x2="385.63" y2="333.3" stroke="#888" stroke-width="0.8"/>
<line x1="452.07" y1="330.3" x2="452.07" y2="333.3" stroke="#888" stroke-width="0.8"/>
<line x1="518.5" y1="330.3" x2="518.5" y2="333.3" stroke="#888" stroke-width="0.8"/>
<text transform="translate(352.82 354.2) scale(1 1)" font-size="12" text-anchor="middle" fill="#111" letter-spacing="0.8">6 wk</text>
<text transform="translate(419.25 354.2) scale(1 1)" font-size="12" text-anchor="middle" fill="#111" letter-spacing="0.8">10 wk</text>
<text transform="translate(485.68 354.2) scale(1 1)" font-size="12" text-anchor="middle" fill="#111" letter-spacing="0.8">5-6 mo</text>
<line x1="352" y1="330.3" x2="420" y2="330.3" stroke="#000" stroke-width="3"/>
<path d="M352.42 246.55 L418.85 320.46 L485.28 299.53" fill="none" stroke="#adadad" stroke-width="1.2"/>
<path d="M352.42 261.94 L418.85 298.52 L485.28 301.04" fill="none" stroke="#adadad" stroke-width="1.2"/>
<path d="M352.42 274.05 L418.85 304.07 L485.28 300.53" fill="none" stroke="#adadad" stroke-width="1.2"/>
<path d="M352.42 242.52 L418.85 270.77 L485.28 310.12" fill="none" stroke="#000" stroke-width="1.2"/>
<path d="M352.42 278.34 L418.85 325 L485.28 309.87" fill="none" stroke="#000" stroke-width="1.2"/>
<path d="M352.42 307.6 L418.85 283.38 L485.28 300.28" fill="none" stroke="#000" stroke-width="1.2"/>
<circle cx="352.42" cy="242.52" r="3" fill="#000" stroke="#000" stroke-width="1.0"/>
<circle cx="418.85" cy="270.77" r="3" fill="#000" stroke="#000" stroke-width="1.0"/>
<circle cx="485.28" cy="310.12" r="3" fill="#000" stroke="#000" stroke-width="1.0"/>
<rect x="349.47" y="275.39" width="5.9" height="5.9" fill="#000" stroke="#000" stroke-width="1.0"/>
<rect x="415.9" y="322.05" width="5.9" height="5.9" fill="#000" stroke="#000" stroke-width="1.0"/>
<rect x="482.33" y="306.92" width="5.9" height="5.9" fill="#000" stroke="#000" stroke-width="1.0"/>
<path d="M352.42 303.8L356.22 307.6L352.42 311.4L348.62 307.6Z" fill="#000" stroke="#000" stroke-width="1.0" stroke-linejoin="miter"/>
<path d="M418.85 279.58L422.65 283.38L418.85 287.18L415.05 283.38Z" fill="#000" stroke="#000" stroke-width="1.0" stroke-linejoin="miter"/>
<path d="M485.28 296.48L489.08 300.28L485.28 304.08L481.48 300.28Z" fill="#000" stroke="#000" stroke-width="1.0" stroke-linejoin="miter"/>
<rect x="349.59" y="243.73" width="5.65" height="5.65" fill="#c0c0c0" stroke="#111" stroke-width="1.25"/>
<rect x="416.03" y="317.64" width="5.65" height="5.65" fill="#c0c0c0" stroke="#111" stroke-width="1.25"/>
<rect x="482.46" y="296.7" width="5.65" height="5.65" fill="#c0c0c0" stroke="#111" stroke-width="1.25"/>
<circle cx="352.42" cy="261.94" r="2.88" fill="#c0c0c0" stroke="#111" stroke-width="1.25"/>
<circle cx="418.85" cy="298.52" r="2.88" fill="#c0c0c0" stroke="#111" stroke-width="1.25"/>
<circle cx="485.28" cy="301.04" r="2.88" fill="#c0c0c0" stroke="#111" stroke-width="1.25"/>
<path d="M352.42 270.55L355.92 274.05L352.42 277.55L348.92 274.05Z" fill="#c0c0c0" stroke="#111" stroke-width="1.25" stroke-linejoin="miter"/>
<path d="M418.85 300.57L422.35 304.07L418.85 307.57L415.35 304.07Z" fill="#c0c0c0" stroke="#111" stroke-width="1.25" stroke-linejoin="miter"/>
<path d="M485.28 297.03L488.78 300.53L485.28 304.03L481.78 300.53Z" fill="#c0c0c0" stroke="#111" stroke-width="1.25" stroke-linejoin="miter"/>
</svg></body></html>
